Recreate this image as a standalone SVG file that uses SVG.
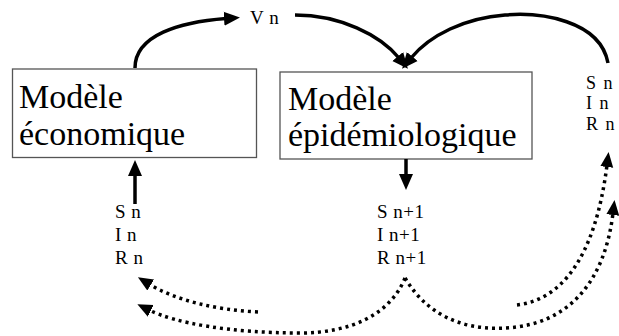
<svg xmlns="http://www.w3.org/2000/svg" width="619" height="336" viewBox="0 0 619 336">
<style>
.box{fill:#fff;stroke:#555;stroke-width:1.3}
.big{font-family:"Liberation Serif","Times New Roman",serif;font-size:34px;fill:#000}
.sm{font-family:"Liberation Serif","Times New Roman",serif;font-size:19px;fill:#000;letter-spacing:0.5px}
.xs{font-family:"Liberation Serif","Times New Roman",serif;font-size:18px;fill:#000;letter-spacing:1.5px}
.solid{fill:none;stroke:#000;stroke-width:3.5}
.dot{fill:none;stroke:#000;stroke-width:3.5;stroke-dasharray:3 4}
</style>
<defs>
<marker id="ah" markerUnits="userSpaceOnUse" markerWidth="16" markerHeight="16" viewBox="0 0 16 16" refX="2" refY="8" orient="auto">
<path d="M0,1 L16,8 L0,15 Z" fill="#000"/>
</marker>
<marker id="ahd" markerUnits="userSpaceOnUse" markerWidth="15" markerHeight="15" viewBox="0 0 15 15" refX="2" refY="7.5" orient="auto">
<path d="M0,1 L15,7.5 L0,14 Z" fill="#000"/>
</marker>
</defs>
<g id="eco">
<rect class="box" x="12.5" y="69" width="244" height="88.5"/>
<text class="big" x="19" y="108">Modèle</text>
<text class="big" x="19" y="145">économique</text>
</g>
<g id="epi">
<rect class="box" x="280" y="72" width="252" height="87"/>
<text class="big" x="288" y="110">Modèle</text>
<text class="big" x="288" y="146">épidémiologique</text>
</g>
<g id="vn"><text class="sm" x="250" y="24" letter-spacing="1.5">V n</text></g>
<g id="sir-n"><text class="sm" x="115" y="218">S n</text><text class="sm" x="115" y="241">I n</text><text class="sm" x="115" y="264">R n</text></g>
<g id="sir-n1"><text class="sm" x="377" y="218">S n+1</text><text class="sm" x="377" y="241">I n+1</text><text class="sm" x="377" y="264">R n+1</text></g>
<g id="sir-r"><text class="xs" x="586" y="89">S n</text><text class="xs" x="586" y="109">I n</text><text class="xs" x="586" y="130">R n</text></g>
<g id="connectors">
<path class="solid" d="M135,68 C135,35 180,22 226,18.5" marker-end="url(#ah)"/>
<path class="solid" d="M295,15 C340,15 380,35 399,58" marker-end="url(#ah)"/>
<path class="solid" d="M608,63 C600,20 540,12 505,15 C465,18 430,35 411,58" marker-end="url(#ah)"/>
<path class="solid" d="M406,159 L406,176" marker-end="url(#ah)"/>
<path class="solid" d="M135,204 L135,174" marker-end="url(#ah)"/>
<path class="dot" d="M258,312 C215,310 175,300 149,284" marker-end="url(#ahd)"/>
<path class="dot" d="M405,278 C390,315 350,333 300,333 C230,333 175,323 149,310" marker-end="url(#ahd)"/>
<path class="dot" d="M517,305 C560,300 595,260 607,165" marker-end="url(#ahd)"/>
<path class="dot" d="M405,278 C430,320 470,330 505,328 C570,325 605,280 613,213" marker-end="url(#ahd)"/>
</g>
</svg>
